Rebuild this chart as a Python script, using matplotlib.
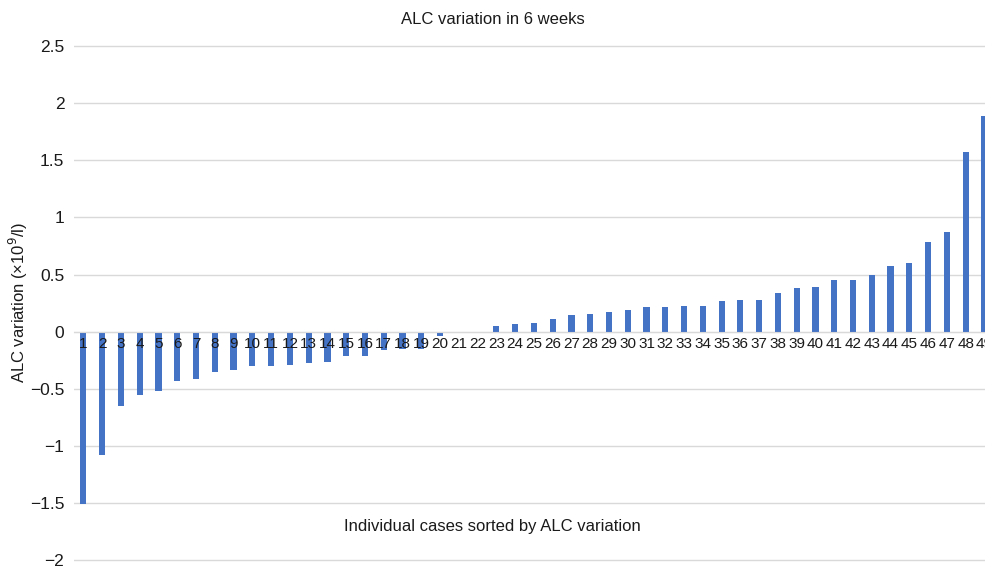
import numpy as np
import matplotlib.pyplot as plt

plt.rcParams['font.family'] = ['Liberation Sans', 'DejaVu Sans']

# case number (sorted) and ALC change in 6 weeks (x10^9/l)
cases = np.arange(1, 50)
alc_change = np.array([
    -1.51, -1.08, -0.65, -0.55, -0.52, -0.43, -0.41, -0.35, -0.33, -0.30,
    -0.30, -0.29, -0.27, -0.26, -0.21, -0.21, -0.16, -0.15, -0.15, -0.04,
    0.0, 0.0, 0.055, 0.064, 0.08, 0.11, 0.146, 0.16, 0.17, 0.19,
    0.22, 0.22, 0.23, 0.23, 0.27, 0.28, 0.28, 0.34, 0.38, 0.39,
    0.45, 0.45, 0.50, 0.575, 0.60, 0.785, 0.87, 1.57, 1.89,
])
yticks = [2.5, 2, 1.5, 1, 0.5, 0, -0.5, -1, -1.5, -2]

fig = plt.figure(figsize=(9.85, 5.67), dpi=100)
ax = fig.add_axes([74 / 985, 0.0055, 1 - 74 / 985, 0.9194])

ax.bar(cases, alc_change, width=0.33, color='#4472C4', zorder=2)

ax.set_xlim(0.5, 49.03)
ax.set_ylim(-2.03, 2.53)
ax.set_yticks(yticks)
ax.set_yticklabels([('\u2212' + f'{abs(v):g}') if v < 0 else f'{v:g}' for v in yticks])
ax.yaxis.grid(True, color='#d9d9d9', linewidth=1.0)
ax.tick_params(axis='y', length=0, pad=7, labelsize=12.5, labelcolor='#1a1a1a')

ax.spines['bottom'].set_position(('data', 0))
ax.spines['bottom'].set_color('#d9d9d9')
for s in ['top', 'right', 'left']:
    ax.spines[s].set_visible(False)
ax.set_xticks(cases)
ax.set_xticklabels([str(c) for c in cases])
ax.tick_params(axis='x', length=0, pad=4, labelsize=11, labelcolor='#1a1a1a')

# gridlines behind the bars, case numbers on top of them
ax.set_axisbelow(True)
ax.xaxis.set_zorder(3)

fig.text(0.5, 1 - 20 / 567, 'ALC variation in 6 weeks', ha='center', va='center',
         fontsize=12, color='#1a1a1a')
fig.text(492 / 985, 1 - 527 / 567, 'Individual cases sorted by ALC variation',
         ha='center', va='center', fontsize=12, color='#1a1a1a')
fig.text(18 / 985, 1 - 302 / 567, 'ALC variation (\u00d710$^{9}$/l)', rotation=90,
         ha='center', va='center', fontsize=12, color='#1a1a1a')

fig.savefig('out.png', dpi=100)
